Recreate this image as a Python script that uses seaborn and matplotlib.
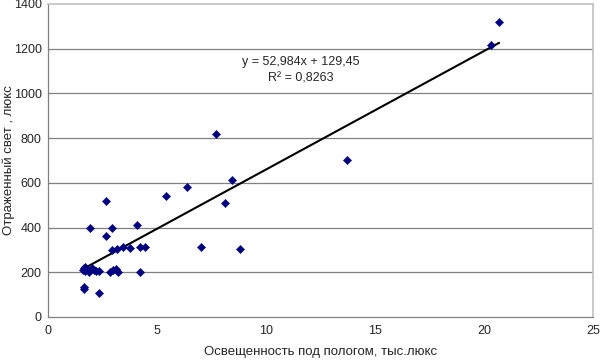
import pandas as pd
import numpy as np
import matplotlib
matplotlib.use('Agg')
import matplotlib.pyplot as plt
import seaborn as sns

# data
illum = [1.6, 1.7, 1.8, 1.9, 2.0, 2.1, 2.2, 2.35, 1.65, 1.7, 1.65, 1.65, 2.35,
         1.95, 2.65, 2.65, 2.95, 2.85, 3.0, 3.1, 3.2, 2.95, 3.15, 3.45, 3.75,
         4.2, 4.45, 4.1, 4.2, 5.4, 6.4, 7.0, 7.7, 8.1, 8.45, 8.8, 13.7, 20.35, 20.7]
reflected = [210, 225, 215, 200, 220, 210, 205, 207, 220, 205, 135, 125, 105,
             400, 520, 360, 400, 203, 210, 216, 203, 300, 306, 315, 310,
             312, 312, 410, 200, 540, 580, 312, 820, 508, 612, 302, 700, 1215, 1320]

slope = 52.984
intercept = 129.45
r2_text = '0,8263'

df = pd.DataFrame({'x': illum, 'y': reflected})

sns.set_style('white')
plt.rcParams['font.family'] = ['Liberation Sans', 'DejaVu Sans']

fig = plt.figure(figsize=(6, 3.61), dpi=100)
ax = fig.add_axes([0.08, 0.122, 0.908, 0.867])

for v in range(200, 1400, 200):
    ax.axhline(v, color='#808080', lw=0.9, zorder=0)

# linear trend line over the data range
xs = np.array([df['x'].min(), df['x'].max()])
trend = pd.DataFrame({'x': xs, 'y': slope * xs + intercept})
sns.lineplot(data=trend, x='x', y='y', color='black', lw=1.5, ax=ax, zorder=2)

sns.scatterplot(data=df, x='x', y='y', marker='D', s=18, color='#000080',
                edgecolor='#000080', linewidth=0.3, ax=ax, zorder=3)

ax.text(11.6, 1140, 'y = 52,984x + 129,45', ha='center', va='center', fontsize=9)
ax.text(11.6, 1068, 'R² = ' + r2_text, ha='center', va='center', fontsize=9)

ax.set_xlim(0, 25)
ax.set_ylim(0, 1400)
ax.set_xticks(range(0, 26, 5))
ax.set_yticks(range(0, 1401, 200))
ax.tick_params(axis='both', direction='out', length=4, width=0.8, color='#808080',
               labelsize=9, pad=2)
ax.tick_params(axis='y', length=3, pad=1.5)

for side in ['left', 'bottom']:
    ax.spines[side].set_color('#808080')
    ax.spines[side].set_linewidth(0.9)
for side in ['top', 'right']:
    ax.spines[side].set_color('#c0c0c0')
    ax.spines[side].set_linewidth(1.2)

ax.set_xlabel('Освещенность под пологом, тыс.люкс', fontsize=9.5)
ax.set_ylabel('Отраженный свет , люкс', fontsize=9.5)
ax.xaxis.set_label_coords(0.5, -0.112)
ax.yaxis.set_label_coords(-0.072, 0.5)
ax.xaxis.label.set_va('center')
ax.yaxis.label.set_va('center')

fig.savefig('out.png', dpi=100)
